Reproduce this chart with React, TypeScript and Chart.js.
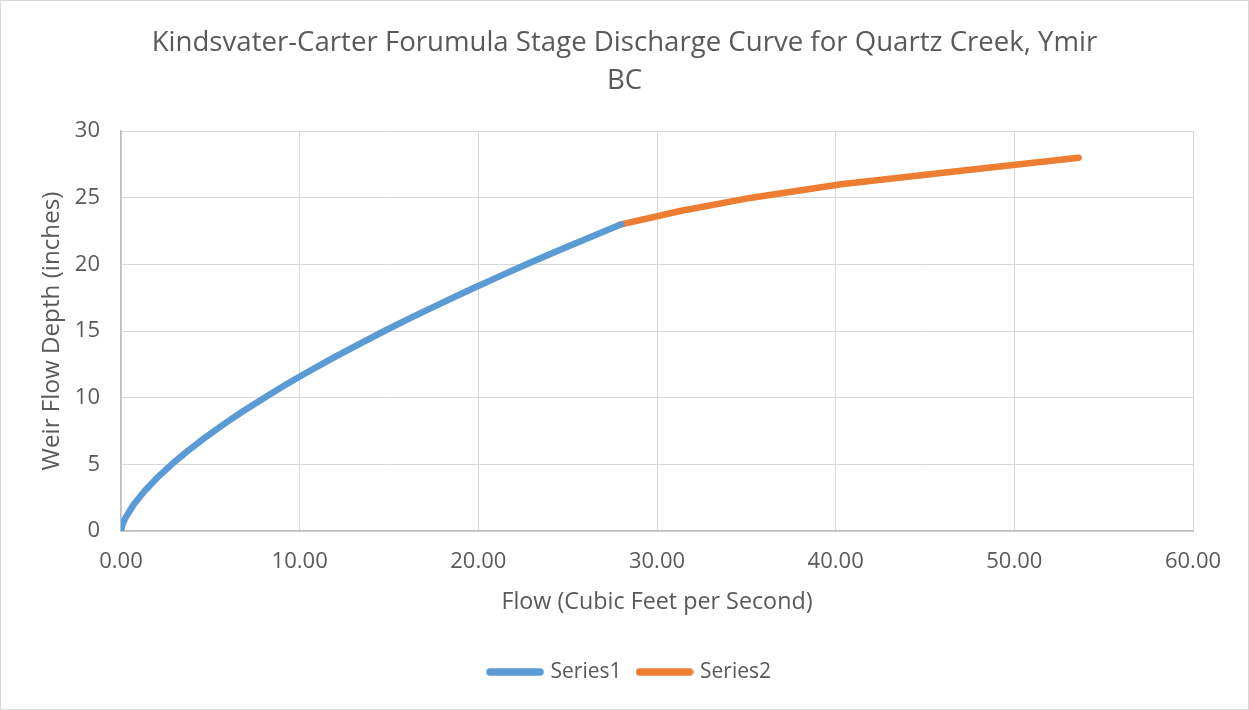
import React, { useEffect, useRef } from 'react';
import { Chart, registerables } from 'chart.js';

Chart.register(...registerables);

const TITLE_LINES = ['Kindsvater-Carter Forumula Stage Discharge Curve for Quartz Creek, Ymir', 'BC'];
const X_TITLE = 'Flow (Cubic Feet per Second)';
const Y_TITLE = 'Weir Flow Depth (inches)';
const SERIES_NAMES = ['Series1', 'Series2'];

// Series1: flow (cfs) vs depth (inches)
const series1Flow = [0, 0.09, 0.25, 0.72, 1.32, 2.03, 2.84, 3.73, 4.7, 5.74, 6.85, 8.03, 9.26, 10.55, 11.9, 13.3, 14.74, 16.24, 17.79, 19.38, 21.02, 22.7, 24.42, 26.19, 28.0];
const series1Depth = [0, 0.5, 1, 2, 3, 4, 5, 6, 7, 8, 9, 10, 11, 12, 13, 14, 15, 16, 17, 18, 19, 20, 21, 22, 23];

// Series2
const series2Flow = [28.0, 31.3, 35.3, 40.3, 46.9, 53.6];
const series2Depth = [23, 24, 25, 26, 27, 28];

const X_MIN = 0, X_MAX = 60, X_STEP = 10;
const Y_MIN = 0, Y_MAX = 30, Y_STEP = 5;

const COLORS = ['#5B9BD5', '#ED7D31'];
const TEXT = '#595959';
const FONT = "'Open Sans', 'Noto Sans', sans-serif";

function legendLine(color: string): HTMLCanvasElement {
  const c = document.createElement('canvas');
  c.width = 58;
  c.height = 10;
  const g = c.getContext('2d')!;
  g.strokeStyle = color;
  g.lineWidth = 7.5;
  g.lineCap = 'round';
  g.beginPath();
  g.moveTo(4, 5);
  g.lineTo(54, 5);
  g.stroke();
  return c;
}

const shiftTitle = {
  id: 'shiftTitle',
  afterLayout(chart: any) {
    const t = chart.titleBlock;
    if (t) {
      t.left -= 6;
      t.right -= 6;
    }
  },
};

export default function App() {
  const ref = useRef<HTMLCanvasElement | null>(null);

  useEffect(() => {
    if (!ref.current) return;
    const pts = (xs: number[], ys: number[]) => xs.map((x, i) => ({ x, y: ys[i] }));
    const chart = new Chart(ref.current, {
      type: 'line',
      data: {
        datasets: [
          {
            label: SERIES_NAMES[0],
            data: pts(series1Flow, series1Depth),
            borderColor: COLORS[0],
            backgroundColor: COLORS[0],
            borderWidth: 6.5,
            borderCapStyle: 'round',
            borderJoinStyle: 'round',
            pointRadius: 0,
            pointStyle: legendLine(COLORS[0]) as any,
            tension: 0,
          },
          {
            label: SERIES_NAMES[1],
            data: pts(series2Flow, series2Depth),
            borderColor: COLORS[1],
            backgroundColor: COLORS[1],
            borderWidth: 6.5,
            borderCapStyle: 'round',
            borderJoinStyle: 'round',
            pointRadius: 0,
            pointStyle: legendLine(COLORS[1]) as any,
            tension: 0,
          },
        ],
      },
      plugins: [shiftTitle],
      options: {
        animation: false,
        responsive: false,
        maintainAspectRatio: false,
        layout: { padding: { left: 67, right: 55, top: 0, bottom: 16.5 } },
        plugins: {
          title: {
            display: true,
            text: TITLE_LINES,
            color: TEXT,
            font: { family: FONT, size: 27.6, weight: 'normal', lineHeight: 37.5 / 27.6 },
            padding: { top: 23.5, bottom: 31.5 },
          },
          legend: {
            display: true,
            position: 'bottom',
            labels: {
              color: TEXT,
              font: { family: FONT, size: 21 },
              usePointStyle: true,
              pointStyleWidth: 50,
              padding: 18,
            },
          },
          tooltip: { enabled: false },
        },
        scales: {
          x: {
            type: 'linear',
            min: X_MIN,
            max: X_MAX,
            afterFit: (s: any) => { s.height = 112.5; },
            ticks: {
              stepSize: X_STEP,
              color: TEXT,
              font: { family: FONT, size: 22 },
              padding: 18,
              maxRotation: 0,
              callback: (v: any) => Number(v).toFixed(2),
            },
            grid: { color: '#d9d9d9', lineWidth: 1, drawTicks: false },
            border: { color: '#bfbfbf', width: 1.5 },
            title: {
              display: true,
              text: X_TITLE,
              color: TEXT,
              font: { family: FONT, size: 23.3 },
              padding: { top: 0, bottom: 27.5 },
            },
          },
          y: {
            type: 'linear',
            min: Y_MIN,
            max: Y_MAX,
            afterFit: (s: any) => { s.width = 53; },
            ticks: {
              stepSize: Y_STEP,
              color: TEXT,
              font: { family: FONT, size: 22 },
              padding: 21,
            },
            grid: { color: '#d9d9d9', lineWidth: 1, drawTicks: false },
            border: { color: '#bfbfbf', width: 1.5 },
            title: {
              display: true,
              text: Y_TITLE,
              color: TEXT,
              font: { family: FONT, size: 24.2 },
              padding: { top: -30.8, bottom: 0 },
            },
          },
        },
      },
    });
    return () => chart.destroy();
  }, []);

  return (
    <div
      style={{
        position: 'absolute',
        left: 0,
        top: 0,
        width: 1249,
        height: 710,
        boxSizing: 'border-box',
        border: '1px solid #d9d9d9',
        background: '#fff',
      }}
    >
      <canvas ref={ref} width={1247} height={708} style={{ display: 'block', width: 1247, height: 708 }} />
    </div>
  );
}
